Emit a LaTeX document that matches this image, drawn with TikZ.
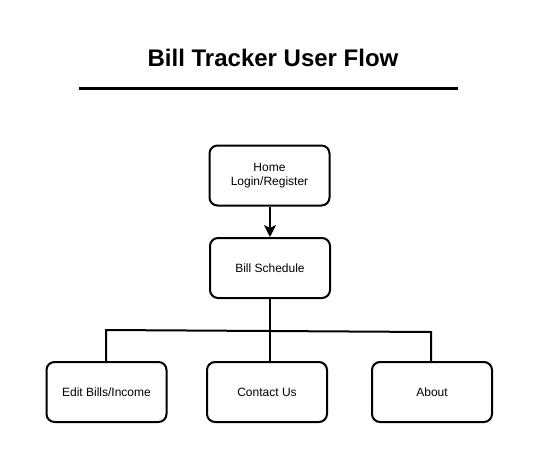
\documentclass[tikz,border=0pt]{standalone}
\usepackage{fontspec}
\setmainfont{Liberation Sans}
\usetikzlibrary{arrows.meta}
\begin{document}
\begin{tikzpicture}[x=1pt,y=-1pt,
  box/.style={draw=black, line width=2pt, rounded corners=8pt, minimum width=120pt, minimum height=60pt, align=center, font=\fontsize{12}{14}\selectfont, inner sep=0pt},
  conn/.style={line width=2pt, draw=black},
  arr/.style={conn, -{Stealth[length=12pt,width=12pt,inset=3pt]}}]
\useasboundingbox (0,0) rectangle (538,463);
\node[font=\bfseries\fontsize{24}{28}\selectfont] (title) at (273,58) {Bill Tracker User Flow};
\coordinate (rl) at (79,88);
\coordinate (rr) at (458,88);
\draw[line width=3pt] (rl) -- (rr);
\node[box] (home) at (269.5,175.5) {Home\\Login/Register};
\node[box] (sched) at (270,268) {Bill Schedule};
\node[box] (edit) at (106.5,392) {Edit Bills/Income};
\node[box] (contact) at (267,392) {Contact Us};
\node[box] (about) at (432,392) {About};
\draw[arr] (sched.north |- home.south) -- (sched.north);
\coordinate (jl) at (106,330);
\coordinate (jr) at (431,332);
\draw[conn] (sched.south) -- (sched.south |- contact.north);
\draw[conn] (edit.north -| jl) -- (jl) -- (jr) -- (about.north -| jr);
\end{tikzpicture}
\end{document}
